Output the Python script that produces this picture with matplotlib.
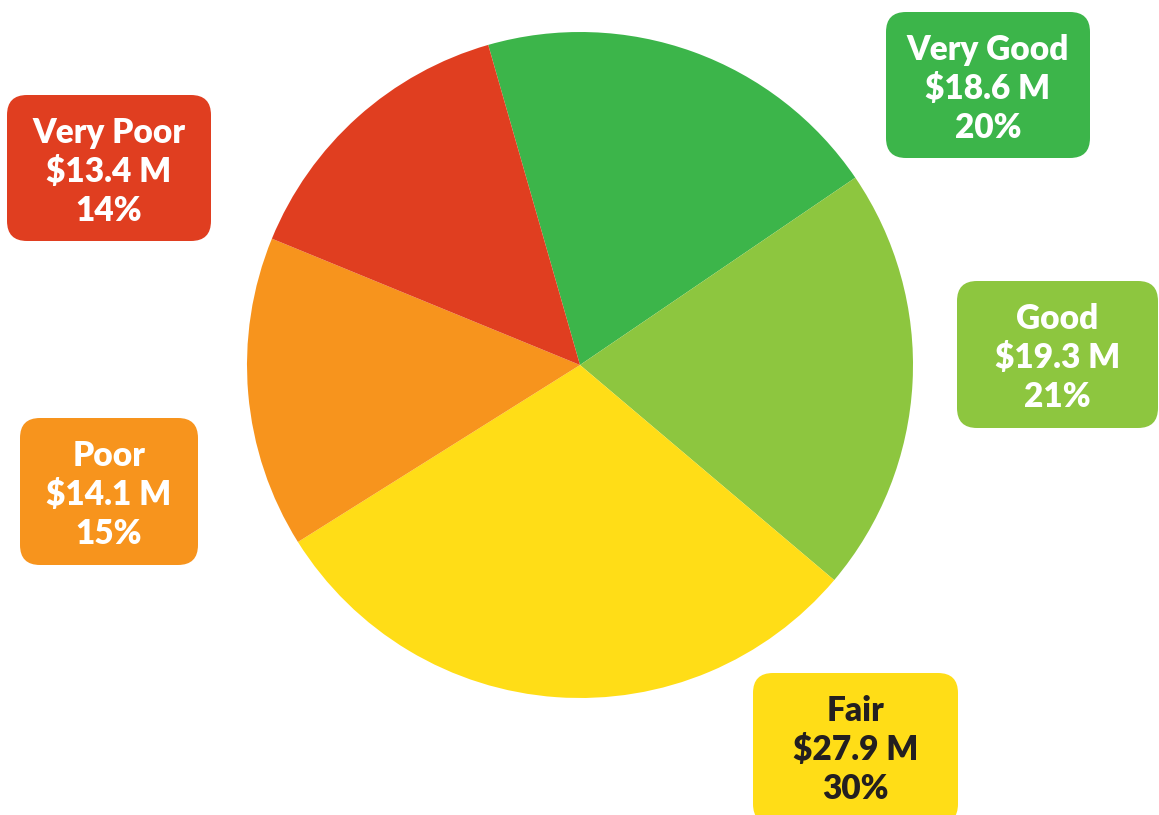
import matplotlib.pyplot as plt
from matplotlib.patches import FancyBboxPatch

# condition categories, value in $M and share shown on the labels
categories = ['Very Good', 'Good', 'Fair', 'Poor', 'Very Poor']
values = [18.6, 19.3, 27.9, 14.1, 13.4]
shares = ['20%', '21%', '30%', '15%', '14%']

colors = ['#3cb54a', '#8dc63f', '#ffdd17', '#f7941d', '#e03e20']
text_colors = ['white', 'white', '#231f20', 'white', 'white']

# label boxes in pixel coords (left, top, right, bottom)
boxes = [(886, 12, 1090, 158), (957, 281, 1158, 428), (753, 673, 958, 824),
         (20, 418, 198, 565), (7, 95, 211, 241)]

W, H = 1159, 815
fig = plt.figure(figsize=(W / 100, H / 100), dpi=100)
ax = fig.add_axes([0, 0, 1, 1])

ax.pie(values, colors=colors, startangle=106, counterclock=False,
       center=(580, H - 365), radius=333, frame=True,
       wedgeprops=dict(linewidth=0))
ax.set_xlim(0, W)
ax.set_ylim(0, H)
ax.set_aspect('equal')
ax.axis('off')

for cat, val, pct, col, tcol, (l, t, r, b) in zip(categories, values, shares,
                                                  colors, text_colors, boxes):
    pad = 20
    box = FancyBboxPatch((l + pad, H - b + pad), (r - l) - 2 * pad, (b - t) - 2 * pad,
                         boxstyle=f'round,pad={pad}', facecolor=col,
                         edgecolor='none', clip_on=False)
    ax.add_patch(box)
    cx = (l + r) / 2
    y0 = t + 38
    for i, line in enumerate([cat, f'${val} M', pct]):
        ax.text(cx, H - (y0 + 39 * i), line, ha='center', va='center',
                fontsize=24, fontweight='heavy', family=['Lato', 'DejaVu Sans'],
                color=tcol)

fig.savefig('out.png', dpi=100)
